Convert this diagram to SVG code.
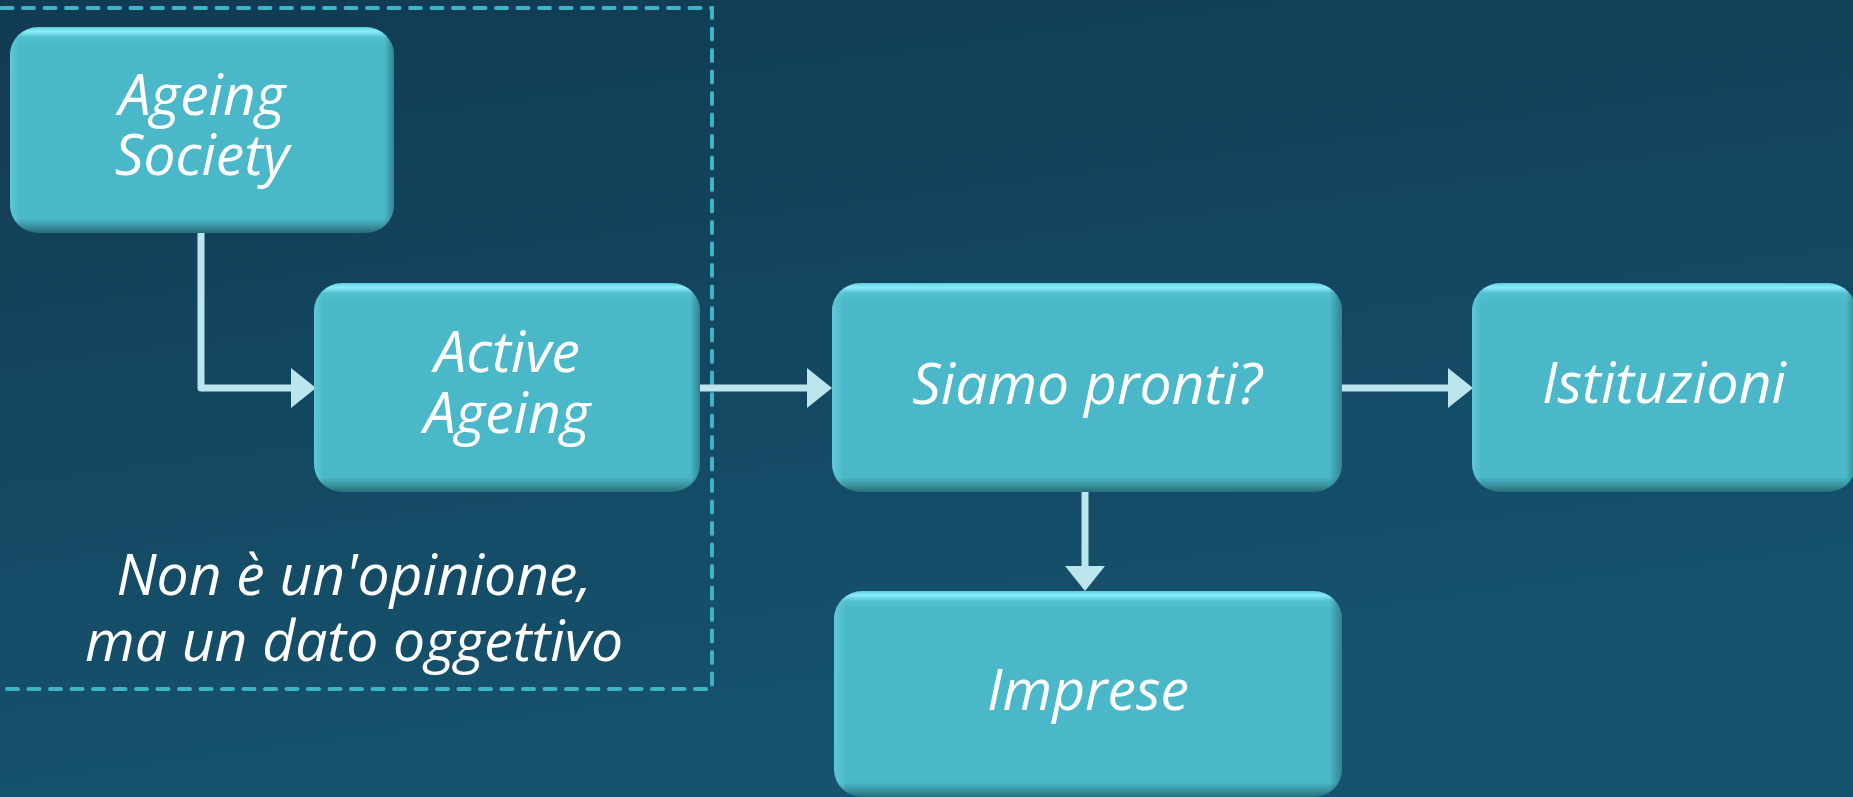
<svg xmlns="http://www.w3.org/2000/svg" width="1853" height="797" viewBox="0 0 1853 797">
<style>
.lbl{font-family:"Open Sans","Noto Sans","DejaVu Sans",sans-serif;font-style:italic;font-size:57px;fill:#ffffff;text-anchor:middle}
.box{fill:url(#boxV)}
.boxh{fill:url(#boxH)}
.conn{fill:none;stroke:#bde5ed;stroke-width:7;stroke-linejoin:round;marker-end:url(#ah)}
.frame{fill:none;stroke:#3fb4c5;stroke-width:4;stroke-dasharray:11 10.5;stroke-linecap:round}
</style>
<defs>
<linearGradient id="bg" x1="0" y1="0" x2="0.3" y2="1">
<stop offset="0" stop-color="#113b52"/>
<stop offset="1" stop-color="#16536f"/>
</linearGradient>
<linearGradient id="boxV" x1="0" y1="0" x2="0" y2="1">
<stop offset="0" stop-color="#5ccbd9"/>
<stop offset="0.02" stop-color="#8aeefc"/>
<stop offset="0.05" stop-color="#52c0cf"/>
<stop offset="0.1" stop-color="#4ab8c8"/>
<stop offset="0.93" stop-color="#4ab8c8"/>
<stop offset="0.965" stop-color="#3a96a3"/>
<stop offset="1" stop-color="#286c78"/>
</linearGradient>
<linearGradient id="boxH" x1="0" y1="0" x2="1" y2="0">
<stop offset="0" stop-color="#8ae6f2" stop-opacity="0.35"/>
<stop offset="0.025" stop-color="#8ae6f2" stop-opacity="0"/>
<stop offset="0.975" stop-color="#1c4f58" stop-opacity="0"/>
<stop offset="1" stop-color="#1c4f58" stop-opacity="0.5"/>
</linearGradient>
<marker id="ah" markerUnits="userSpaceOnUse" markerWidth="26" markerHeight="42" viewBox="0 -21 26 42" refX="1" refY="0" orient="auto">
<path d="M0,-20 L25,0 L0,20 z" fill="#bde5ed"/>
</marker>
</defs>
<rect x="0" y="0" width="1853" height="797" fill="url(#bg)"/>
<rect x="-20" y="8" width="732" height="681" class="frame"/>
<g id="connectors">
<path class="conn" d="M201,233 V388 H292"/>
<path class="conn" d="M700,388 H808"/>
<path class="conn" d="M1342,388 H1449"/>
<path class="conn" d="M1085,492 V567"/>
</g>
<g id="node-ageing-society">
<rect class="box" x="10" y="27" width="384" height="206" rx="28"/>
<rect class="boxh" x="10" y="27" width="384" height="206" rx="28"/>
<text class="lbl" x="202" y="115">Ageing</text>
<text class="lbl" x="202" y="175">Society</text>
</g>
<g id="node-active-ageing">
<rect class="box" x="314" y="283" width="386" height="209" rx="28"/>
<rect class="boxh" x="314" y="283" width="386" height="209" rx="28"/>
<text class="lbl" x="507" y="372">Active</text>
<text class="lbl" x="507" y="433">Ageing</text>
</g>
<g id="node-siamo-pronti">
<rect class="box" x="832" y="283" width="510" height="209" rx="28"/>
<rect class="boxh" x="832" y="283" width="510" height="209" rx="28"/>
<text class="lbl" x="1087" y="404">Siamo pronti?</text>
</g>
<g id="node-istituzioni">
<rect class="box" x="1472" y="283" width="384" height="209" rx="28"/>
<rect class="boxh" x="1472" y="283" width="384" height="209" rx="28"/>
<text class="lbl" x="1664" y="403">Istituzioni</text>
</g>
<g id="node-imprese">
<rect class="box" x="834" y="591" width="508" height="206" rx="28"/>
<rect class="boxh" x="834" y="591" width="508" height="206" rx="28"/>
<text class="lbl" x="1088" y="710">Imprese</text>
</g>
<g id="note">
<text class="lbl" x="354" y="595">Non è un'opinione,</text>
<text class="lbl" x="354" y="661">ma un dato oggettivo</text>
</g>
</svg>
